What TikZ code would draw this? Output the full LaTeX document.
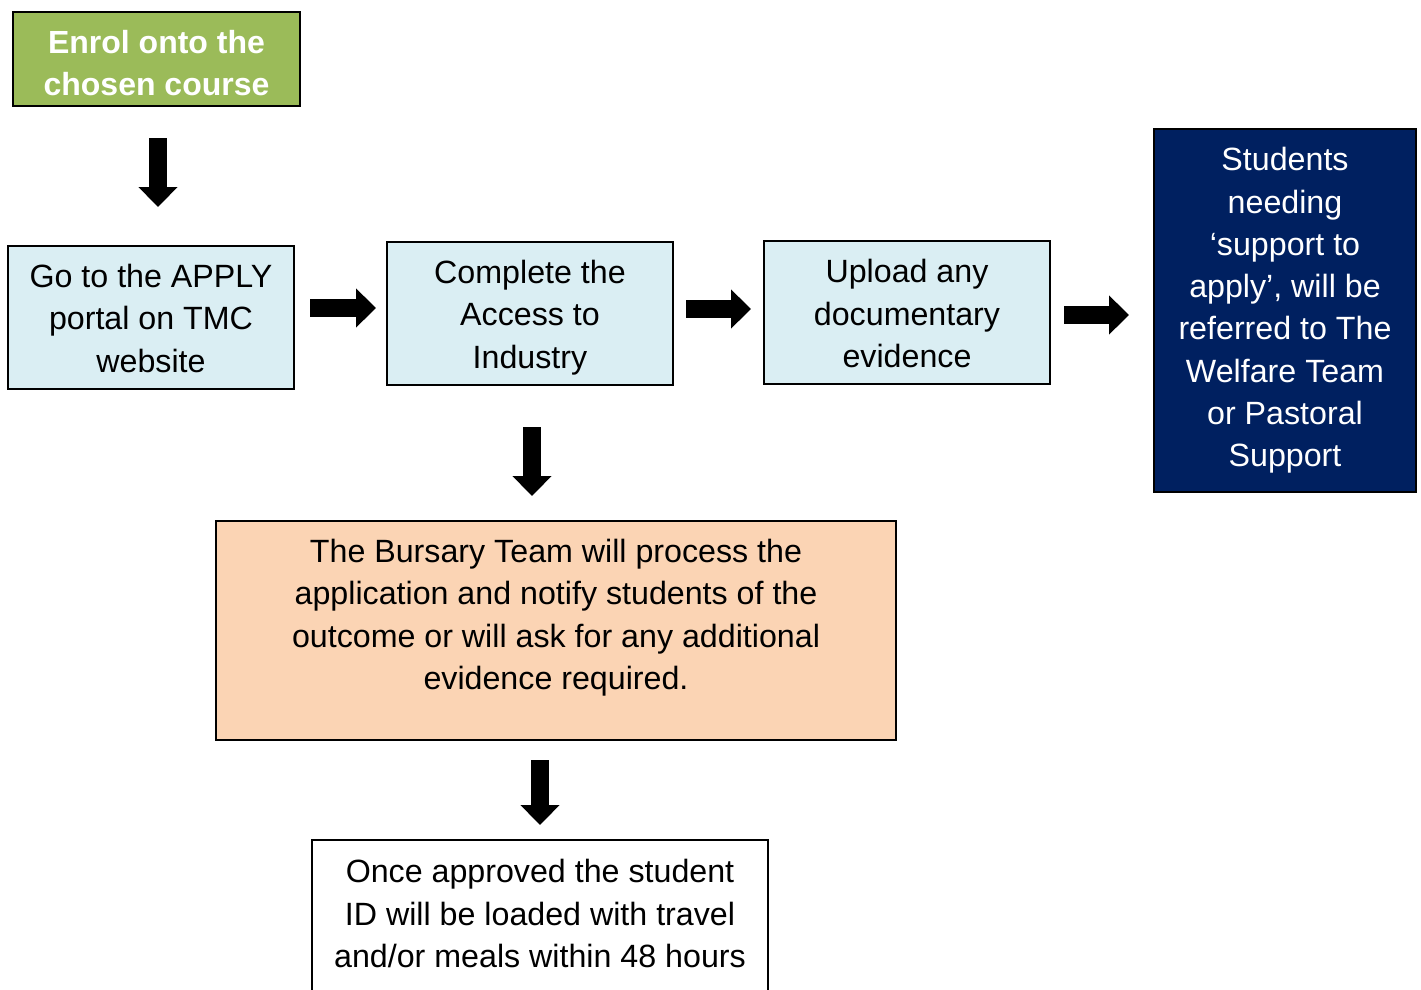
\documentclass[tikz,border=0pt]{standalone}
\usepackage{fontspec}
\setmainfont{Liberation Sans}
\usetikzlibrary{arrows.meta}
\definecolor{enrolgreen}{HTML}{9BBB59}
\definecolor{lightblue}{HTML}{DAEEF3}
\definecolor{navy}{HTML}{002060}
\definecolor{peach}{HTML}{FBD4B4}
\newcommand{\topstrut}[1]{\rule{0pt}{#1}}
\tikzset{
  box/.style={draw=black, line width=1.2pt, inner sep=0pt, align=center,
    font=\fontsize{32.2}{42.3}\selectfont},
  bluebox/.style={box, fill=lightblue, minimum width=286pt, minimum height=143pt},
  blockarrow/.style={line width=18pt, -{Triangle[width=38pt,length=20pt]}},
}
\begin{document}
\begin{tikzpicture}[x=1pt,y=-1pt]
\useasboundingbox (0,0) rectangle (1421,990);
\node[box, fill=enrolgreen, text=white, font=\fontsize{32}{42.3}\selectfont\bfseries,
  minimum width=287pt, minimum height=94pt] (enrol) at (156.5,59)
  {\topstrut{31.5pt}Enrol onto the\\chosen course};
\node[bluebox] (go) at (151,317.5) {\topstrut{25pt}Go to the APPLY\\portal on TMC\\website};
\node[bluebox] (comp) at (530,313.5) {\topstrut{31.5pt}Complete the\\Access to\\Industry};
\node[bluebox] (upl) at (907,312.5) {\topstrut{25.5pt}Upload any\\documentary\\evidence};
\node[box, fill=navy, text=white, minimum width=262pt, minimum height=363pt] (stud) at (1285,310.5)
  {Students\\needing\\‘support to\\apply’, will be\\referred to The\\Welfare Team\\or Pastoral\\Support};
\node[box, fill=peach, minimum width=680pt, minimum height=219pt] (burs) at (556,630.5)
  {\topstrut{33.5pt}The Bursary Team will process the\\application and notify students of the\\outcome or will ask for any additional\\evidence required.\\\mbox{}};
\node[box, fill=white, minimum width=456pt, minimum height=190pt] (once) at (540,935)
  {\topstrut{35.5pt}Once approved the student\\ID will be loaded with travel\\and/or meals within 48 hours\\\strut};

\coordinate (a1s) at (158,138);  \coordinate (a1e) at (158,207);
\coordinate (a2s) at (310,308);  \coordinate (a2e) at (376,308);
\coordinate (a3s) at (686,309);  \coordinate (a3e) at (751,309);
\coordinate (a4s) at (1064,315); \coordinate (a4e) at (1129,315);
\coordinate (a5s) at (532,427);  \coordinate (a5e) at (532,496);
\coordinate (a6s) at (540,760);  \coordinate (a6e) at (540,825);
\draw[blockarrow] (a1s) -- (a1e);
\draw[blockarrow] (a2s) -- (a2e);
\draw[blockarrow] (a3s) -- (a3e);
\draw[blockarrow] (a4s) -- (a4e);
\draw[blockarrow] (a5s) -- (a5e);
\draw[blockarrow] (a6s) -- (a6e);
\end{tikzpicture}
\end{document}
